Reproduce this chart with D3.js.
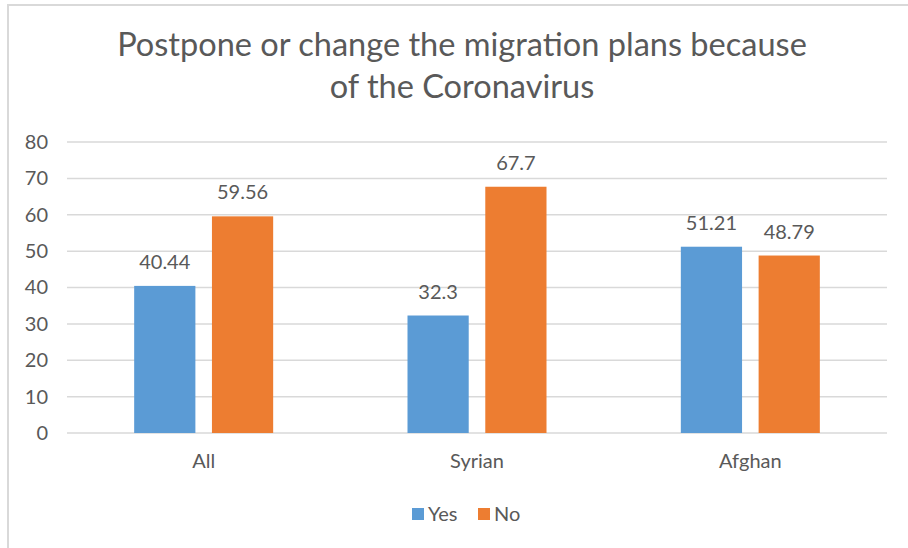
<!DOCTYPE html>
<html>
<head>
<meta charset="utf-8">
<script src="https://cdn.jsdelivr.net/npm/d3@7"></script>
<style>
  html, body { margin: 0; padding: 0; background: #fff; }
  svg { display: block; }
  text { font-family: Lato, "Open Sans", sans-serif; fill: #595959; }
</style>
</head>
<body>
<svg id="chart" width="908" height="548"></svg>
<script>
const categories = ["All", "Syrian", "Afghan"];
const seriesNames = ["Yes", "No"];
const yesValues = [40.44, 32.3, 51.21];
const noValues = [59.56, 67.7, 48.79];
const yesLabels = ["40.44", "32.3", "51.21"];
const noLabels = ["59.56", "67.7", "48.79"];
const yTicks = [0, 10, 20, 30, 40, 50, 60, 70, 80];
const titleLines = ["Postpone or change the migration plans because", "of the Coronavirus"];

const colors = { Yes: "#5B9BD5", No: "#ED7D31" };
const seriesValues = { Yes: yesValues, No: noValues };
const seriesLabels = { Yes: yesLabels, No: noLabels };

const svg = d3.select("#chart");

// chart area border (extends beyond the picture on right and bottom)
svg.append("rect")
  .attr("x", 8).attr("y", 5).attr("width", 920).attr("height", 560)
  .attr("fill", "#fff").attr("stroke", "#D9D9D9").attr("stroke-width", 2);

// title
const title = svg.append("g");
titleLines.forEach((line, i) => {
  title.append("text")
    .attr("x", 462).attr("y", 56 + i * 41.5)
    .attr("text-anchor", "middle")
    .style("font-size", "30px")
    .text(line);
});
// fit first line to reference width
const t0 = title.select("text").node();
const w0 = t0.getComputedTextLength();
const fs = 30 * 690 / w0;
title.selectAll("text").style("font-size", fs + "px");

const plot = { left: 67, right: 887, top: 142, bottom: 433 };

const y = d3.scaleLinear().domain([0, 80]).range([plot.bottom, plot.top]);
const x0 = d3.scaleBand().domain(categories).range([plot.left, plot.right]).padding(0);
const groupW = 139;
const x1 = d3.scaleBand().domain(seriesNames).range([0, groupW]).paddingInner(0.213).paddingOuter(0);

// gridlines
svg.append("g")
  .selectAll("line").data(yTicks).join("line")
  .attr("x1", plot.left).attr("x2", plot.right)
  .attr("y1", d => y(d)).attr("y2", d => y(d))
  .attr("stroke", "#D9D9D9").attr("stroke-width", 1.5);

// y axis labels
const yAxis = d3.axisLeft(y).tickValues(yTicks).tickSize(0).tickPadding(0);
const ya = svg.append("g").attr("transform", "translate(48,0)").call(yAxis);
ya.select(".domain").remove();
ya.selectAll("text")
  .attr("fill", "#595959")
  .style("font-size", "20px")
  .style("font-family", "Lato, 'Open Sans', sans-serif");

// bars
const groups = svg.append("g").selectAll("g").data(categories).join("g")
  .attr("transform", d => `translate(${x0(d) + x0.bandwidth() / 2 - groupW / 2},0)`);

groups.each(function(cat, ci) {
  const g = d3.select(this);
  seriesNames.forEach(s => {
    const v = seriesValues[s][ci];
    g.append("rect")
      .attr("x", x1(s)).attr("width", x1.bandwidth())
      .attr("y", y(v)).attr("height", y(0) - y(v))
      .attr("fill", colors[s]);
    g.append("text")
      .attr("x", x1(s) + x1.bandwidth() / 2)
      .attr("y", y(v) - 17)
      .attr("text-anchor", "middle")
      .style("font-size", "20px")
      .text(seriesLabels[s][ci]);
  });
});

// x axis labels
const xAxis = d3.axisBottom(x0).tickSize(0).tickPadding(0);
const xa = svg.append("g").attr("transform", `translate(0,${plot.bottom + 21})`).call(xAxis);
xa.select(".domain").remove();
xa.selectAll("text")
  .attr("fill", "#595959")
  .style("font-size", "20px")
  .style("font-family", "Lato, 'Open Sans', sans-serif");

// legend
const legendX = { Yes: 412, No: 478 };
const legend = svg.append("g");
seriesNames.forEach(s => {
  legend.append("rect")
    .attr("x", legendX[s]).attr("y", 508).attr("width", 12).attr("height", 12)
    .attr("fill", colors[s]);
  legend.append("text")
    .attr("x", legendX[s] + 16).attr("y", 521)
    .style("font-size", "20px")
    .text(s);
});
</script>
</body>
</html>
